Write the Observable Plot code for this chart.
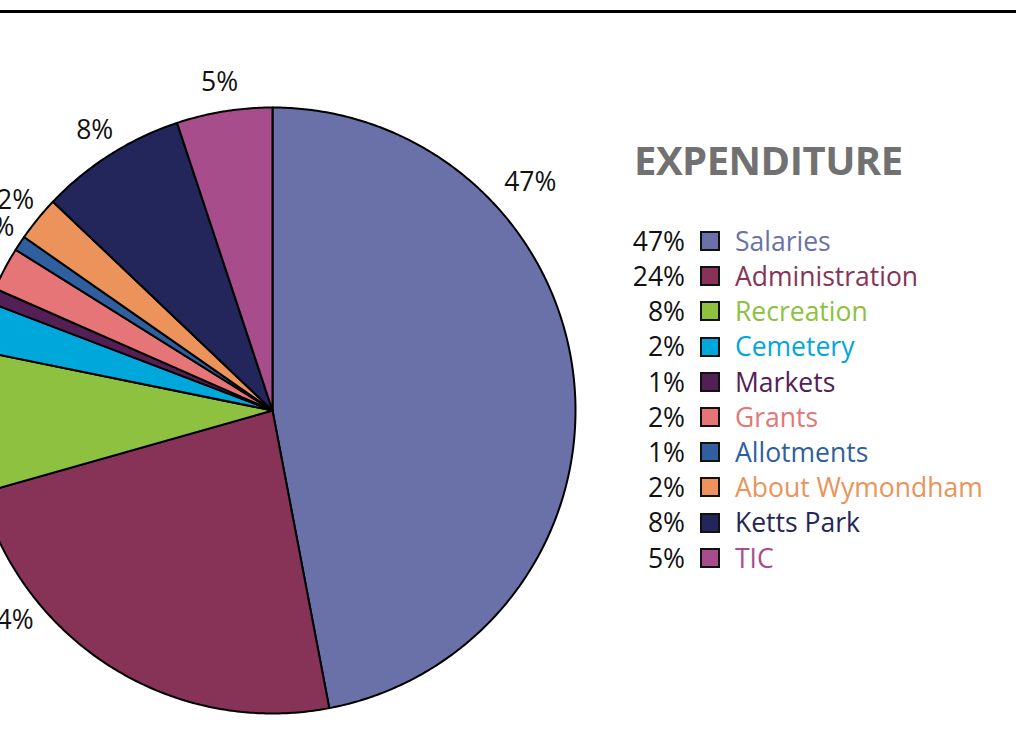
<!DOCTYPE html>
<html>
<head>
<meta charset="utf-8">
<script src="https://cdn.jsdelivr.net/npm/d3@7"></script>
<script src="https://cdn.jsdelivr.net/npm/@observablehq/plot@0.6"></script>
<style>
  html, body { margin: 0; padding: 0; background: #fff; }
  #wrap { position: relative; width: 1016px; height: 756px; overflow: hidden; font-family: "Open Sans", sans-serif; }
  #chart { position: absolute; left: 0; top: 0; }
  #rule { position: absolute; left: 0; top: 10px; width: 1016px; height: 3px; background: #000; }
  #title { position: absolute; left: 634px; top: 140px; font-size: 40px; font-weight: 700; color: #717171; letter-spacing: -0.5px; line-height: 1; }
  .row { position: absolute; left: 596px; height: 30px; display: flex; align-items: center; font-size: 26.5px; line-height: 1; }
  .pct { width: 89px; text-align: right; color: #111; }
  .sw { width: 16px; height: 16px; border: 2px solid #111; margin-left: 15px; margin-right: 15px; box-sizing: content-box; }
</style>
</head>
<body>
<div id="wrap">
  <div id="chart"></div>
  <div id="rule"></div>
  <div id="title">EXPENDITURE</div>
  <div id="legend"></div>
</div>
<script>
// Data
const categories = ["Salaries", "Administration", "Recreation", "Cemetery", "Markets", "Grants", "Allotments", "About Wymondham", "Ketts Park", "TIC"];
const shares = [47.0, 23.6, 7.6, 2.6, 0.8, 2.3, 0.8, 2.4, 7.8, 5.1];
const pctLabels = ["47%", "24%", "8%", "2%", "1%", "2%", "1%", "2%", "8%", "5%"];
const colors = ["#6a71a8", "#873358", "#8dc13f", "#00a7db", "#532056", "#e57576", "#2f5f9f", "#eb935a", "#23265a", "#a84d8c"];

// Layout (pixels)
const W = 1016, H = 756, cx = 272, cy = 410, R = 303;
// label placement along each slice (fraction of sweep, radius factor); default middle
const labelPlace = {"Salaries": [0.287, 1.135], "Administration": [0.735, 1.115]};
const labelR = 1.095;

const total = d3.sum(shares);
let acc = 0;
const slices = categories.map((c, i) => {
  const a0 = acc / total * 2 * Math.PI;
  acc += shares[i];
  const a1 = acc / total * 2 * Math.PI;
  return {cat: c, a0, a1, label: pctLabels[i], color: colors[i]};
});

const polyPts = [];
for (const s of slices) {
  polyPts.push({cat: s.cat, x: 0, y: 0});
  const n = Math.max(4, Math.ceil((s.a1 - s.a0) / (Math.PI / 360)));
  for (let k = 0; k <= n; k++) {
    const a = s.a0 + (s.a1 - s.a0) * k / n;
    polyPts.push({cat: s.cat, x: Math.sin(a), y: Math.cos(a)});
  }
  polyPts.push({cat: s.cat, x: 0, y: 0});
}

const labels = slices.map(s => {
  const [f, r] = labelPlace[s.cat] ?? [0.5, labelR];
  const a = s.a0 + (s.a1 - s.a0) * f;
  return {text: s.label, x: r * Math.sin(a), y: r * Math.cos(a)};
});

const plot = Plot.plot({
  width: W,
  height: H,
  margin: 0,
  x: {domain: [-cx / R, (W - cx) / R], axis: null},
  y: {domain: [-(H - cy) / R, cy / R], axis: null},
  color: {domain: categories, range: colors},
  style: {background: "transparent"},
  marks: [
    Plot.line(polyPts, {x: "x", y: "y", z: "cat", fill: "cat", stroke: "#000", strokeWidth: 2, strokeLinejoin: "round", curve: "linear"}),
    Plot.text(labels, {x: "x", y: "y", text: "text", fontSize: 26.5, fill: "#111", fontFamily: "Open Sans", textAnchor: "middle", lineAnchor: "middle"})
  ]
});
document.getElementById("chart").appendChild(plot);

// Legend
const legend = document.getElementById("legend");
categories.forEach((c, i) => {
  const row = document.createElement("div");
  row.className = "row";
  row.style.top = (241 + i * 35.2 - 15) + "px";
  row.innerHTML = `<span class="pct">${pctLabels[i]}</span><span class="sw" style="background:${colors[i]}"></span><span style="color:${colors[i]}">${c}</span>`;
  legend.appendChild(row);
});
</script>
</body>
</html>
